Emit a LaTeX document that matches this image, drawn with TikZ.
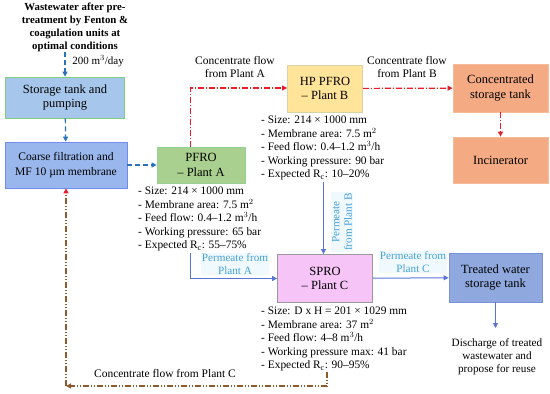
\documentclass[tikz,border=0pt]{standalone}
\usepackage{fontspec}
\setmainfont{Liberation Serif}
\usepackage{xcolor}
\usetikzlibrary{arrows.meta}

\definecolor{tankblue}{RGB}{166,199,235}
\definecolor{pfrogreen}{RGB}{169,208,142}
\definecolor{hpyellow}{RGB}{255,228,153}
\definecolor{concorange}{RGB}{244,170,130}
\definecolor{spropink}{RGB}{246,196,246}
\definecolor{treatblue}{RGB}{143,168,222}
\definecolor{flowblue}{RGB}{40,115,185}
\definecolor{permblue}{RGB}{90,115,215}
\definecolor{permtext}{RGB}{70,160,215}
\definecolor{flowred}{RGB}{230,30,40}
\definecolor{flowbrown}{RGB}{140,90,45}

\begin{document}
\begin{tikzpicture}[x=1pt,y=-1pt,
    unitbox/.style={draw,line width=0.8pt,align=center,inner sep=2pt,
      font=\fontsize{12.5}{14.5}\selectfont},
    speclist/.style={align=left,anchor=north west,inner sep=0pt,
      font=\fontsize{11.4}{13.5}\selectfont},
    flowlabel/.style={align=center,inner sep=1pt,font=\fontsize{11.5}{13}\selectfont},
    permlabel/.style={align=center,inner sep=1pt,font=\fontsize{11.2}{12.5}\selectfont,
      text=permtext,fill=cyan!6},
    blueflow/.style={flowblue,line width=1.2pt,dash pattern=on 5pt off 3pt,
      -{Triangle[length=5pt,width=5pt]}},
    redflow/.style={flowred,line width=1.2pt,dash pattern=on 6pt off 2pt on 1pt off 2pt,
      -{Triangle[length=5pt,width=5pt]}},
    permflow/.style={permblue,line width=1pt,-{Triangle[length=5pt,width=5pt]}},
    brownflow/.style={flowbrown,line width=1.2pt,
      dash pattern=on 6pt off 2pt on 1pt off 2pt on 1pt off 2pt}]
  \useasboundingbox (0,0) rectangle (550,394);

  \node[align=center,font=\bfseries\fontsize{10.8}{13}\selectfont] (feed) at (75,27)
    {Wastewater after pre-\\treatment by Fenton \&\\coagulation units at\\optimal conditions};
  \node[flowlabel,font=\fontsize{11}{13}\selectfont] (rate) at (98,61) {200 m$^3$/day};
  \coordinate (feedend) at (65,52);

  \node[unitbox,fill=tankblue,draw=green!45!gray!70,minimum width=119pt,minimum height=41pt]
    (storage) at (65,97.5) {Storage tank and\\pumping};
  \node[unitbox,fill=tankblue!92!blue,draw=tankblue!70!blue,minimum width=122pt,minimum height=46pt,
    font=\fontsize{11.6}{14.5}\selectfont]
    (coarse) at (66,165) {Coarse filtration and\\MF 10 \textmu m membrane};
  \node[unitbox,fill=pfrogreen,draw=green!40!gray!60,minimum width=88pt,minimum height=36pt]
    (pfro) at (201,165) {PFRO\\-- Plant A};
  \node[unitbox,fill=hpyellow,draw=yellow!40!gray!60,minimum width=75pt,minimum height=47pt]
    (hppfro) at (325,88.5) {HP PFRO\\-- Plant B};
  \node[unitbox,fill=concorange,draw=concorange!80!white,minimum width=95pt,minimum height=48pt]
    (conctank) at (500.5,88) {Concentrated\\storage tank};
  \node[unitbox,fill=concorange,draw=concorange!80!white,minimum width=95pt,minimum height=46pt]
    (incin) at (500.5,160) {Incinerator};
  \node[unitbox,fill=spropink,draw=gray!80,minimum width=95pt,minimum height=48pt]
    (spro) at (325,278.5) {SPRO\\-- Plant C};
  \node[unitbox,fill=treatblue,draw=permblue!80,minimum width=93pt,minimum height=49pt]
    (treated) at (495.5,277.5) {Treated water\\storage tank};

  \node[speclist] (specA) at (138,187) {- Size: 214 × 1000 mm\\- Membrane area: 7.5 m$^2$\\
    - Feed flow: 0.4--1.2 m$^3$/h\\- Working pressure: 65 bar\\- Expected R$_\mathrm{c}$: 55--75\%};
  \node[speclist] (specB) at (261,116) {- Size: 214 × 1000 mm\\- Membrane area: 7.5 m$^2$\\
    - Feed flow: 0.4--1.2 m$^3$/h\\- Working pressure: 90 bar\\- Expected R$_\mathrm{c}$: 10--20\%};
  \node[speclist] (specC) at (261,307) {- Size: D x H = 201 × 1029 mm\\- Membrane area: 37 m$^2$\\
    - Feed flow: 4--8 m$^3$/h\\- Working pressure max: 41 bar\\- Expected R$_\mathrm{c}$: 90--95\%};

  \node[flowlabel] (concA) at (235,67) {Concentrate flow\\from Plant A};
  \node[flowlabel] (concB) at (407,67) {Concentrate flow\\from Plant B};
  \node[flowlabel] (concC) at (165,374) {Concentrate flow from Plant C};
  \node[permlabel] (permA) at (235,264) {Permeate from\\Plant A};
  \node[permlabel,rotate=90] (permB) at (342,222) {Permeate\\from Plant B};
  \node[permlabel] (permC) at (413,262) {Permeate from\\Plant C};
  \node[flowlabel,font=\fontsize{11.2}{13}\selectfont] (discharge) at (497,357)
    {Discharge of treated\\wastewater and\\propose for reuse};

  \coordinate (upA) at (190.5,88);
  \coordinate (startB) at (323.5,182);
  \coordinate (startA) at (190,253);
  \coordinate (cornerA) at (190,278.5);
  \coordinate (outlet) at (495.5,328);
  \coordinate (startC) at (327,372);
  \coordinate (cornerC) at (327,386);
  \coordinate (returnC) at (66,386);

  \draw[blueflow] (feedend) -- (storage.north);
  \draw[blueflow] (storage) -- (coarse);
  \draw[blueflow] (coarse) -- (pfro);
  \draw[redflow] (pfro.north -| upA) -- (upA) -- (hppfro.west |- upA);
  \draw[redflow] (hppfro) -- (conctank);
  \draw[redflow] (conctank) -- (incin);
  \draw[permflow] (startB) -- (spro.north -| startB);
  \draw[permflow] (startA) -- (cornerA) -- (spro.west);
  \draw[permflow] (spro) -- (treated);
  \draw[permflow] (treated) -- (outlet);
  \draw[brownflow,-{Triangle[length=5pt,width=5pt]}] (startC) -- (cornerC) -- (returnC);
  \draw[brownflow,-{Triangle[length=5pt,width=5pt,color=flowred]}] (returnC) -- (coarse.south);
\end{tikzpicture}
\end{document}
